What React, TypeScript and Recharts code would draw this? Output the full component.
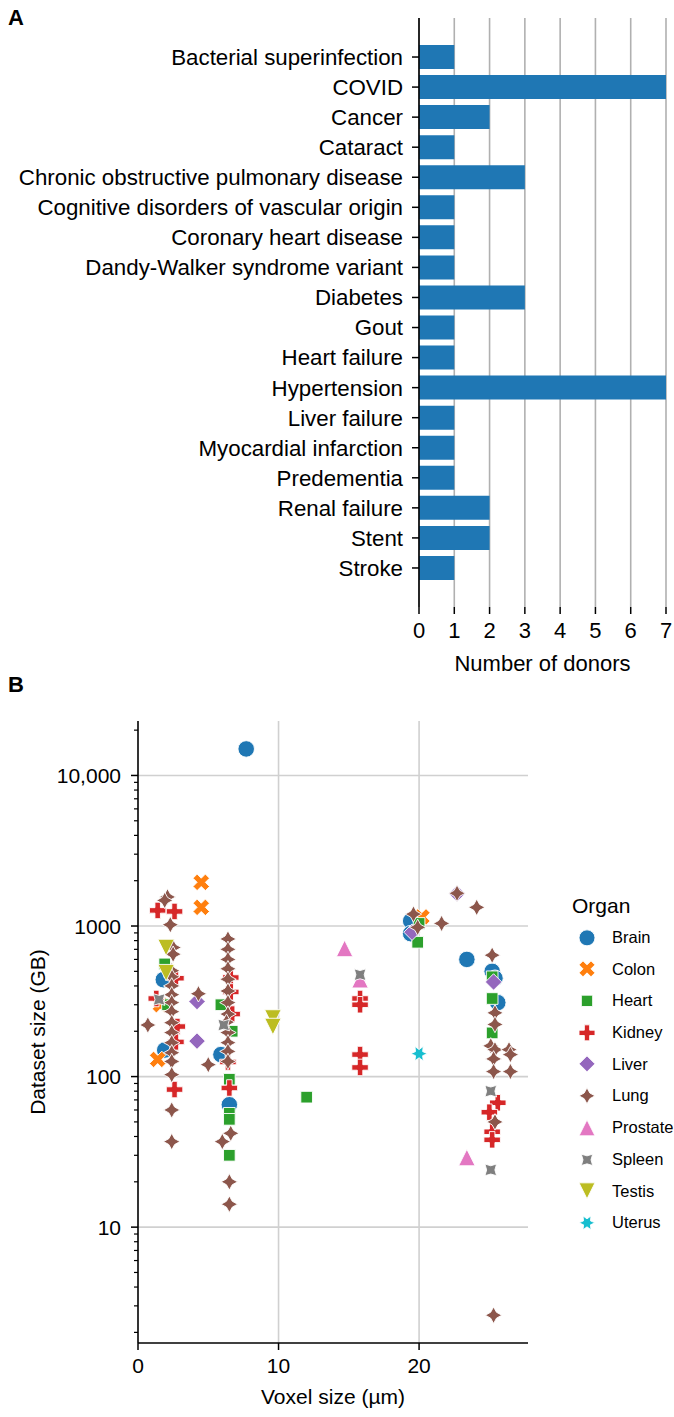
import React from 'react';
import {
  BarChart,
  Bar,
  XAxis,
  YAxis,
  CartesianGrid,
  ScatterChart,
  Scatter,
  Legend,
  Label
} from 'recharts';

const FONT = '"Liberation Sans", Arial, Helvetica, sans-serif';

// panel A
const CONDITIONS = [
  'Bacterial superinfection',
  'COVID',
  'Cancer',
  'Cataract',
  'Chronic obstructive pulmonary disease',
  'Cognitive disorders of vascular origin',
  'Coronary heart disease',
  'Dandy-Walker syndrome variant',
  'Diabetes',
  'Gout',
  'Heart failure',
  'Hypertension',
  'Liver failure',
  'Myocardial infarction',
  'Predementia',
  'Renal failure',
  'Stent',
  'Stroke'
];
const DONORS = [1, 7, 2, 1, 3, 1, 1, 1, 3, 1, 1, 7, 1, 1, 1, 2, 2, 1];
const DONOR_TICKS = [0, 1, 2, 3, 4, 5, 6, 7];

// panel B: [voxel size µm, dataset size GB]
const BRAIN = [[7.7, 15000], [1.9, 150], [1.8, 440], [5.9, 140], [6.5, 65], [19.4, 1080], [19.4, 890], [23.4, 600], [25.2, 500], [25.4, 450], [25.6, 310]];
const COLON = [[4.5, 1950], [4.5, 1330], [1.4, 130], [20.2, 1150], [1.6, 300]];
const HEART = [[12.0, 73], [6.5, 96], [6.5, 57], [6.5, 52], [6.5, 30], [5.9, 300], [19.9, 780], [20.0, 1040], [25.2, 330], [25.2, 195], [25.2, 460], [1.9, 560], [2.1, 300], [6.7, 200]];
const KIDNEY = [[1.4, 1270], [2.6, 1250], [2.6, 82], [1.3, 330], [2.7, 450], [2.8, 215], [2.7, 170], [6.6, 455], [6.6, 365], [6.4, 125], [6.5, 84], [6.7, 260], [15.8, 330], [15.8, 300], [15.8, 140], [15.8, 115], [25.6, 67], [25.0, 58], [25.2, 43], [25.2, 38]];
const LIVER = [[4.2, 315], [4.2, 172], [19.5, 910], [22.7, 1640], [25.3, 425]];
const LUNG = [
  [0.7, 220], [2.1, 1560], [1.9, 1480], [2.3, 1020], [2.5, 720], [2.5, 650], [2.4, 505], [2.4, 460], [2.4, 400],
  [2.4, 350], [2.4, 310], [2.4, 270], [2.4, 228], [2.4, 196], [2.4, 168], [2.4, 144], [2.4, 126], [2.4, 103],
  [2.4, 60], [2.4, 37], [4.3, 355], [5.0, 120], [6.4, 820], [6.4, 700], [6.4, 600], [6.4, 520], [6.4, 443],
  [6.4, 370], [6.4, 310], [6.4, 260], [6.3, 230], [6.4, 196], [6.4, 168], [6.4, 147], [6.4, 126], [6.6, 42],
  [6.0, 37], [6.5, 20], [6.5, 14.2], [19.6, 1200], [19.9, 980], [21.6, 1040], [22.7, 1650], [24.1, 1330],
  [25.2, 640], [25.4, 265], [25.4, 222], [25.1, 160], [25.4, 151], [26.4, 151], [26.5, 140], [26.5, 108],
  [25.3, 131], [25.3, 108], [25.4, 50], [25.3, 2.6]
];
const PROSTATE = [[14.7, 710], [15.8, 440], [23.4, 29]];
const SPLEEN = [[1.5, 325], [6.1, 220], [15.8, 475], [25.1, 80], [25.1, 24]];
const TESTIS = [[2.0, 720], [2.0, 490], [9.6, 245], [9.6, 215]];
const UTERUS = [[20.0, 142]];

const ORGANS = ['Brain', 'Colon', 'Heart', 'Kidney', 'Liver', 'Lung', 'Prostate', 'Spleen', 'Testis', 'Uterus'];
const ORGAN_POINTS = [BRAIN, COLON, HEART, KIDNEY, LIVER, LUNG, PROSTATE, SPLEEN, TESTIS, UTERUS];
const ORGAN_COLORS = ['#1f77b4', '#ff7f0e', '#2ca02c', '#d62728', '#9467bd', '#8c564b', '#e377c2', '#7f7f7f', '#bcbd22', '#17becf'];
const ORGAN_MARKERS = ['circle', 'x', 'square', 'plus', 'diamond', 'star4', 'triUp', 'star4r', 'triDown', 'star6'];

const X_TICKS = [0, 10, 20];
const Y_MAJOR = [10, 100, 1000, 10000];
const Y_TICKS = [
  2, 3, 4, 5, 6, 7, 8, 9, 10,
  20, 30, 40, 50, 60, 70, 80, 90, 100,
  200, 300, 400, 500, 600, 700, 800, 900, 1000,
  2000, 3000, 4000, 5000, 6000, 7000, 8000, 9000, 10000,
  20000
];

const MARKER_SIZE = 16.5;

// matplotlib-style polygon/star outlines, first vertex at 90deg
const starPoints = (n: number, rOut: number, rIn: number, rot: number) => {
  const pts: number[][] = [];
  const step = rIn === rOut ? 360 / n : 180 / n;
  const count = rIn === rOut ? n : 2 * n;
  for (let i = 0; i < count; i++) {
    const a = ((90 + rot + i * step) * Math.PI) / 180;
    const r = rIn !== rOut && i % 2 === 1 ? rIn : rOut;
    pts.push([r * Math.cos(a), -r * Math.sin(a)]);
  }
  return pts;
};

const toPts = (cx: number, cy: number, pts: number[][], k = 1) =>
  pts.map(([x, y]) => `${cx + x * k},${cy + y * k}`).join(' ');

const X_SHAPE = [[-1, -2], [0, -1], [1, -2], [2, -1], [1, 0], [2, 1], [1, 2], [0, 1], [-1, 2], [-2, 1], [-1, 0], [-2, -1]];
const PLUS_SHAPE = [[-0.5, -1.5], [0.5, -1.5], [0.5, -0.5], [1.5, -0.5], [1.5, 0.5], [0.5, 0.5], [0.5, 1.5], [-0.5, 1.5], [-0.5, 0.5], [-1.5, 0.5], [-1.5, -0.5], [-0.5, -0.5]];

const Marker = ({ kind, cx, cy, color, size = MARKER_SIZE }: any) => {
  const r = size / 2;
  const common = { fill: color, stroke: '#ffffff', strokeWidth: 0.9 };
  switch (kind) {
    case 'circle':
      return <circle cx={cx} cy={cy} r={r} {...common} />;
    case 'x':
      return <polygon points={toPts(cx, cy, X_SHAPE, size / 4)} {...common} />;
    case 'plus':
      return <polygon points={toPts(cx, cy, PLUS_SHAPE, size / 3)} {...common} />;
    case 'square':
      return <polygon points={toPts(cx, cy, starPoints(4, r, r, 45))} {...common} />;
    case 'diamond':
      return <polygon points={toPts(cx, cy, starPoints(4, r, r, 0))} {...common} />;
    case 'star4':
      return <polygon points={toPts(cx, cy, starPoints(4, r, r * 0.5, 0))} {...common} />;
    case 'star4r':
      return <polygon points={toPts(cx, cy, starPoints(4, r, r * 0.5, 45))} {...common} />;
    case 'triUp':
      return <polygon points={toPts(cx, cy, [[0, -r], [-r, r], [r, r]])} {...common} />;
    case 'triDown':
      return <polygon points={toPts(cx, cy, [[0, r], [-r, -r], [r, -r]])} {...common} />;
    case 'star6':
      return <polygon points={toPts(cx, cy, starPoints(6, r, r * 0.5, 30))} {...common} />;
    default:
      return null;
  }
};

const fmtMajor = (v: number) => (v >= 10000 ? v.toLocaleString('en-US') : String(v));

const LogTick = (props: any) => {
  const { x, y, payload } = props;
  const axisX = x + 7 + 10;
  const major = Y_MAJOR.includes(payload.value);
  return (
    <g>
      <line x1={axisX - (major ? 7 : 4)} x2={axisX} y1={y} y2={y} stroke="#000" strokeWidth={major ? 1.5 : 1.2} />
      {major && (
        <text x={x} y={y} dy="0.36em" textAnchor="end" fill="#000" fontSize={21} fontFamily={FONT}>
          {fmtMajor(payload.value)}
        </text>
      )}
    </g>
  );
};

const OrganLegend = (props: any) => {
  const { payload = [] } = props;
  return (
    <div style={{ fontFamily: FONT, fontSize: 16.5, color: '#000' }}>
      <div style={{ height: 31.7, lineHeight: '31.7px', marginLeft: 12, fontSize: 21 }}>Organ</div>
      {payload.map((p: any) => {
        const idx = ORGANS.indexOf(p.value);
        return (
          <div key={p.value} style={{ display: 'flex', alignItems: 'center', height: 31.7 }}>
            <svg width={52} height={31.7} style={{ flex: 'none' }}>
              <Marker kind={ORGAN_MARKERS[idx]} cx={27} cy={15.85} color={ORGAN_COLORS[idx]} size={16} />
            </svg>
            <span style={{ whiteSpace: 'nowrap' }}>{p.value}</span>
          </div>
        );
      })}
    </div>
  );
};

const barData = CONDITIONS.map((name, i) => ({ name, donors: DONORS[i] }));

export default function App() {
  return (
    <div style={{ position: 'absolute', left: 0, top: 0, width: 674, height: 1417, background: '#fff', fontFamily: FONT }}>
      <div style={{ position: 'absolute', left: 0, top: 0 }}>
        <BarChart
          width={674}
          height={690}
          data={barData}
          layout="vertical"
          margin={{ top: 18, right: 8, bottom: 0, left: 0 }}
          style={{ fontFamily: FONT }}
        >
          <CartesianGrid horizontal={false} stroke="#b0b0b0" strokeWidth={1.6} />
          <XAxis
            type="number"
            domain={[0, 7]}
            ticks={DONOR_TICKS}
            interval={0}
            height={83}
            axisLine={false}
            tickLine={{ stroke: '#000', strokeWidth: 1.5 }}
            tickSize={7}
            tickMargin={8}
            tick={{ fill: '#000', fontSize: 22 }}
          >
            <Label value="Number of donors" position="insideBottom" offset={19} fill="#000" fontSize={22} />
          </XAxis>
          <YAxis
            type="category"
            dataKey="name"
            width={419}
            interval={0}
            padding={{ top: 24, bottom: 24 }}
            axisLine={{ stroke: '#000', strokeWidth: 1.6 }}
            tickLine={{ stroke: '#000', strokeWidth: 1.5 }}
            tickSize={7}
            tickMargin={9}
            tick={{ fill: '#000', fontSize: 22.3 }}
          />
          <Bar dataKey="donors" fill="#1f77b4" barSize={24} isAnimationActive={false} />
        </BarChart>
      </div>

      <div style={{ position: 'absolute', left: 0, top: 690 }}>
        <ScatterChart width={674} height={727} margin={{ top: 31, right: 146, bottom: 0, left: 0 }} style={{ fontFamily: FONT }}>
          <CartesianGrid stroke="#d0d0d0" strokeWidth={1.6} horizontalValues={Y_MAJOR} verticalValues={[10, 20]} />
          <XAxis
            type="number"
            dataKey="x"
            domain={[0, 27.75]}
            allowDataOverflow
            ticks={X_TICKS}
            interval={0}
            height={74}
            axisLine={{ stroke: '#000', strokeWidth: 1.6 }}
            tickLine={{ stroke: '#000', strokeWidth: 1.5 }}
            tickSize={7}
            tickMargin={8}
            tick={{ fill: '#000', fontSize: 21 }}
          >
            <Label value="Voxel size (µm)" position="insideBottom" offset={13} fill="#000" fontSize={21} />
          </XAxis>
          <YAxis
            type="number"
            dataKey="y"
            scale="log"
            domain={[1.7, 23000]}
            allowDataOverflow
            ticks={Y_TICKS}
            interval={0}
            width={138}
            axisLine={{ stroke: '#000', strokeWidth: 1.6 }}
            tickLine={false}
            tickSize={7}
            tickMargin={10}
            tick={<LogTick />}
          >
            <Label
              value="Dataset size (GB)"
              angle={-90}
              position="insideLeft"
              offset={38}
              fill="#000"
              fontSize={21}
              style={{ textAnchor: 'middle' }}
            />
          </YAxis>
          {ORGANS.map((organ, i) => (
            <Scatter
              key={organ}
              name={organ}
              data={ORGAN_POINTS[i].map(([x, y]) => ({ x, y }))}
              fill={ORGAN_COLORS[i]}
              isAnimationActive={false}
              shape={(p: any) => <Marker kind={ORGAN_MARKERS[i]} cx={p.cx} cy={p.cy} color={ORGAN_COLORS[i]} />}
            />
          ))}
          <Legend
            content={<OrganLegend />}
            layout="vertical"
            align="center"
            verticalAlign="middle"
            wrapperStyle={{ left: 560, top: 200, width: 114 }}
          />
        </ScatterChart>
      </div>

      <div style={{ position: 'absolute', left: 8, top: 5, fontSize: 22, fontWeight: 'bold' }}>A</div>
      <div style={{ position: 'absolute', left: 8, top: 672, fontSize: 22, fontWeight: 'bold' }}>B</div>
    </div>
  );
}
